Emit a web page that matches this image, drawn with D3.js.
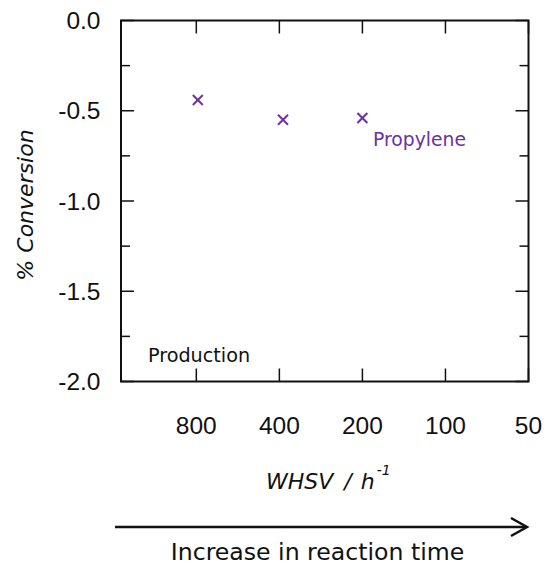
<!DOCTYPE html>
<html>
<head>
<meta charset="utf-8">
<script src="https://cdn.jsdelivr.net/npm/d3@7"></script>
<style>
  html, body { margin: 0; padding: 0; background: #fff; }
  svg { display: block; }
</style>
</head>
<body>
<script>
// ---- data ----
const xTickValues = [800, 400, 200, 100, 50];
const xTickLabels = ["800", "400", "200", "100", "50"];
const yMajorTicks = [0, -0.5, -1.0, -1.5, -2.0];
const yTickLabels = ["0.0", "-0.5", "-1.0", "-1.5", "-2.0"];
const yMinorTicks = [-0.25, -0.75, -1.25, -1.75];
const whsv = [790, 388, 200];
const conversion = [-0.44, -0.55, -0.54];
const seriesName = "Propylene";
const noteText = "Production";

(function () {
const W = 545, H = 565;
const pL = 121, pR = 528.5, pT = 20.5, pB = 381.5;
const purple = "#7030a0";
const ink = "#111";

const svg = d3.select("body").append("svg").attr("width", W).attr("height", H);

const x = d3.scaleLog().domain([1500, 50]).range([pL, pR]);
const y = d3.scaleLinear().domain([-2, 0]).range([pB, pT]);

// ticks (inward) on all sides
const g = svg.append("g").attr("stroke", ink).attr("stroke-width", 1.5);
yMajorTicks.forEach(v => {
  g.append("line").attr("x1", pL).attr("x2", pL + 13).attr("y1", y(v)).attr("y2", y(v));
  g.append("line").attr("x1", pR).attr("x2", pR - 13).attr("y1", y(v)).attr("y2", y(v));
});
yMinorTicks.forEach(v => {
  g.append("line").attr("x1", pL).attr("x2", pL + 9).attr("y1", y(v)).attr("y2", y(v));
  g.append("line").attr("x1", pR).attr("x2", pR - 9).attr("y1", y(v)).attr("y2", y(v));
});
xTickValues.forEach(v => {
  g.append("line").attr("x1", x(v)).attr("x2", x(v)).attr("y1", pB).attr("y2", pB - 13);
  g.append("line").attr("x1", x(v)).attr("x2", x(v)).attr("y1", pT).attr("y2", pT + 13);
});

// frame
svg.append("rect").attr("x", pL).attr("y", pT)
  .attr("width", pR - pL).attr("height", pB - pT)
  .attr("fill", "none").attr("stroke", ink).attr("stroke-width", 2);

// tick labels
svg.append("g").selectAll("text").data(yMajorTicks).join("text")
  .attr("x", 100.5).attr("y", d => y(d) + 8.5)
  .attr("text-anchor", "end")
  .attr("font-family", "'Liberation Sans', Arial, sans-serif")
  .attr("font-size", 24.5).attr("fill", ink)
  .text((d, i) => yTickLabels[i]);

svg.append("g").selectAll("text").data(xTickValues).join("text")
  .attr("x", d => x(d)).attr("y", 434)
  .attr("text-anchor", "middle")
  .attr("font-family", "'Liberation Sans', Arial, sans-serif")
  .attr("font-size", 24.5).attr("fill", ink)
  .text((d, i) => xTickLabels[i]);

// markers
const pts = whsv.map((w, i) => ({ w, c: conversion[i] }));
const mk = svg.append("g").attr("stroke", purple).attr("stroke-width", 2);
pts.forEach(p => {
  const cx = x(p.w), cy = y(p.c), r = 5;
  mk.append("line").attr("x1", cx - r).attr("y1", cy - r).attr("x2", cx + r).attr("y2", cy + r);
  mk.append("line").attr("x1", cx - r).attr("y1", cy + r).attr("x2", cx + r).attr("y2", cy - r);
});

// annotations
svg.append("text").attr("x", 373).attr("y", 146)
  .attr("font-family", "'DejaVu Sans', Verdana, sans-serif")
  .attr("font-size", 18.8).attr("fill", purple).text(seriesName);

svg.append("text").attr("x", 148).attr("y", 362)
  .attr("font-family", "'DejaVu Sans', Verdana, sans-serif")
  .attr("font-size", 19.2).attr("fill", ink).text(noteText);

// y-axis title
svg.append("text")
  .attr("transform", "translate(33,205) rotate(-90)")
  .attr("text-anchor", "middle")
  .attr("font-family", "'DejaVu Sans', Verdana, sans-serif")
  .attr("font-style", "italic")
  .attr("font-size", 22).attr("fill", ink)
  .text("% Conversion");

// x-axis title
const xt = svg.append("text").attr("x", 266).attr("y", 489)
  .attr("font-family", "'DejaVu Sans', Verdana, sans-serif")
  .attr("font-style", "italic")
  .attr("font-size", 22).attr("fill", ink);
xt.append("tspan").text("WHSV");
xt.append("tspan").attr("dx", 11).text("/");
xt.append("tspan").attr("dx", 9).text("h");
xt.append("tspan").attr("font-size", 14).attr("dy", -14).attr("dx", 2).text("-1");

// arrow
svg.append("line").attr("x1", 115).attr("x2", 526).attr("y1", 527).attr("y2", 527)
  .attr("stroke", ink).attr("stroke-width", 2.5);
svg.append("path").attr("d", "M511,518 L527,527 L511,536")
  .attr("fill", "none").attr("stroke", ink).attr("stroke-width", 2.5);

svg.append("text").attr("x", 317.5).attr("y", 560)
  .attr("text-anchor", "middle")
  .attr("font-family", "'DejaVu Sans', Verdana, sans-serif")
  .attr("font-size", 23.6).attr("fill", ink)
  .text("Increase in reaction time");
})();
</script>
</body>
</html>
